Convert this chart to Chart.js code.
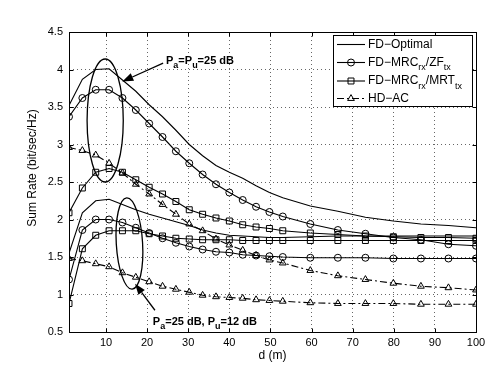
<!DOCTYPE html>
<html>
<head>
<meta charset="utf-8">
<script src="https://cdn.jsdelivr.net/npm/chart.js@4.4.1/dist/chart.umd.min.js"></script>
<style>
  html, body { margin: 0; padding: 0; background: #fff; }
  #wrap { width: 491px; height: 365px; }
</style>
</head>
<body>
<div id="wrap"><canvas id="myChart" width="491" height="365"></canvas></div>
<script>
// d (m) sample points
const distances = [1, 4.25, 7.5, 10.75, 14, 17.25, 20.5, 23.75, 27, 30.25, 33.5, 36.75,
  40, 43.25, 46.5, 49.75, 53, 59.7, 66.4, 73.1, 79.9, 86.6, 93.3, 100];

// Pa = Pu = 25 dB
const optHigh = [3.52, 3.87, 4.00, 4.01, 3.86, 3.71, 3.53, 3.37, 3.19, 3.00, 2.85, 2.72,
  2.63, 2.55, 2.45, 2.36, 2.29, 2.18, 2.11, 2.03, 1.98, 1.94, 1.92, 1.89];
const zfHigh = [3.37, 3.62, 3.73, 3.73, 3.62, 3.46, 3.28, 3.10, 2.91, 2.75, 2.60, 2.47,
  2.36, 2.26, 2.17, 2.10, 2.04, 1.94, 1.86, 1.81, 1.76, 1.73, 1.67, 1.65];
const mrtHigh = [2.09, 2.42, 2.63, 2.68, 2.63, 2.53, 2.43, 2.34, 2.24, 2.13, 2.07, 2.02,
  1.98, 1.93, 1.90, 1.88, 1.85, 1.82, 1.80, 1.78, 1.77, 1.76, 1.76, 1.75];
const hdHigh = [2.96, 2.92, 2.86, 2.75, 2.62, 2.47, 2.34, 2.20, 2.07, 1.94, 1.85, 1.74,
  1.66, 1.59, 1.52, 1.46, 1.42, 1.32, 1.25, 1.20, 1.15, 1.11, 1.09, 1.06];

// Pa = 25 dB, Pu = 12 dB
const optLow = [1.55, 2.09, 2.25, 2.27, 2.20, 2.13, 2.07, 2.02, 1.97, 1.92, 1.86, 1.82,
  1.79, 1.78, 1.77, 1.76, 1.76, 1.77, 1.78, 1.78, 1.78, 1.78, 1.78, 1.78];
const zfLow = [1.20, 1.86, 2.00, 2.00, 1.96, 1.89, 1.82, 1.75, 1.69, 1.64, 1.60, 1.57,
  1.56, 1.53, 1.52, 1.51, 1.50, 1.49, 1.49, 1.49, 1.48, 1.48, 1.48, 1.48];
const mrtLow = [0.88, 1.61, 1.79, 1.85, 1.85, 1.85, 1.81, 1.78, 1.75, 1.74, 1.73, 1.73,
  1.73, 1.72, 1.72, 1.72, 1.72, 1.72, 1.72, 1.72, 1.72, 1.72, 1.72, 1.72];
const hdLow = [1.48, 1.45, 1.41, 1.37, 1.29, 1.23, 1.17, 1.11, 1.07, 1.03, 0.99, 0.97,
  0.96, 0.95, 0.93, 0.92, 0.91, 0.89, 0.88, 0.88, 0.88, 0.87, 0.87, 0.87];

const xTicks = [10, 20, 30, 40, 50, 60, 70, 80, 90, 100];

const FONT = '"Liberation Sans", Arial, Helvetica, sans-serif';
const DASHDOT = [7, 3, 2, 3];

function series(vals) {
  return vals.map((v, i) => ({ x: distances[i], y: v }));
}

function lineSet(label, vals, marker, size, dash) {
  return {
    label: label,
    data: series(vals),
    borderColor: '#000',
    borderWidth: 1.1,
    borderDash: dash || [],
    pointStyle: marker || 'circle',
    pointRadius: marker ? size : 0,
    pointHoverRadius: marker ? size : 0,
    pointBorderColor: '#000',
    pointBackgroundColor: 'rgba(0,0,0,0)',
    pointBorderWidth: 1,
    tension: 0,
    fill: false
  };
}

// text with subscripts, parts = [[text, isSub], ...]
function rich(ctx, parts, x, y, size, bold) {
  let cx = x;
  ctx.textAlign = 'left';
  ctx.textBaseline = 'middle';
  for (const [t, sub] of parts) {
    const fs = sub ? Math.round(size * 0.78) : size;
    ctx.font = (bold ? 'bold ' : '') + fs + 'px ' + FONT;
    ctx.fillText(t, cx, sub ? y + size * 0.45 : y);
    cx += ctx.measureText(t).width;
  }
  return cx;
}

function arrow(ctx, x0, y0, x1, y1) {
  const ang = Math.atan2(y1 - y0, x1 - x0);
  const len = 11, half = 4;
  const bx = x1 - len * Math.cos(ang), by = y1 - len * Math.sin(ang);
  ctx.beginPath();
  ctx.moveTo(x0, y0);
  ctx.lineTo(bx, by);
  ctx.lineWidth = 1.3;
  ctx.stroke();
  ctx.beginPath();
  ctx.moveTo(x1, y1);
  ctx.lineTo(bx + half * Math.sin(ang), by - half * Math.cos(ang));
  ctx.lineTo(bx - half * Math.sin(ang), by + half * Math.cos(ang));
  ctx.closePath();
  ctx.fill();
}

const decor = {
  id: 'decor',
  afterDraw(chart) {
    const { ctx, chartArea: a, scales: { x, y } } = chart;
    ctx.save();
    ctx.strokeStyle = '#000';
    ctx.fillStyle = '#000';
    ctx.lineWidth = 1;
    ctx.setLineDash([]);

    // axes box
    const L = Math.round(a.left) + 0.5, R = Math.round(a.right) + 0.5;
    const T = Math.round(a.top) + 0.5, B = Math.round(a.bottom) + 0.5;
    ctx.strokeRect(L, T, R - L, B - T);

    // inward tick marks on all sides
    ctx.beginPath();
    xTicks.forEach(v => {
      const px = Math.round(x.getPixelForValue(v)) + 0.5;
      ctx.moveTo(px, B); ctx.lineTo(px, B - 4);
      ctx.moveTo(px, T); ctx.lineTo(px, T + 4);
    });
    y.ticks.forEach(t => {
      const py = Math.round(y.getPixelForValue(t.value)) + 0.5;
      ctx.moveTo(L, py); ctx.lineTo(L + 4, py);
      ctx.moveTo(R, py); ctx.lineTo(R - 4, py);
    });
    ctx.stroke();

    // axis titles
    ctx.font = '12px ' + FONT;
    ctx.textAlign = 'center';
    ctx.textBaseline = 'middle';
    ctx.fillText('d (m)', (a.left + a.right) / 2, 356);
    ctx.save();
    ctx.translate(33, 168);
    ctx.rotate(-Math.PI / 2);
    ctx.fillText('Sum Rate (bit/sec/Hz)', 0, 0);
    ctx.restore();

    // ellipses
    ctx.lineWidth = 1.3;
    ctx.beginPath();
    ctx.ellipse(x.getPixelForValue(9.8), y.getPixelForValue(3.32),
      x.getPixelForValue(9.8 + 4.4) - x.getPixelForValue(9.8),
      y.getPixelForValue(3.32) - y.getPixelForValue(3.32 + 0.82), 0, 0, 2 * Math.PI);
    ctx.stroke();
    ctx.beginPath();
    ctx.ellipse(x.getPixelForValue(15.7), y.getPixelForValue(1.68),
      x.getPixelForValue(15.7 + 3.2) - x.getPixelForValue(15.7),
      y.getPixelForValue(1.68) - y.getPixelForValue(1.68 + 0.61), -0.06, 0, 2 * Math.PI);
    ctx.stroke();

    // arrows and notes
    arrow(ctx, x.getPixelForValue(23.9), y.getPixelForValue(4.085),
      x.getPixelForValue(13.97), y.getPixelForValue(3.84));
    arrow(ctx, x.getPixelForValue(21.9), y.getPixelForValue(0.79),
      x.getPixelForValue(17.06), y.getPixelForValue(1.145));
    rich(ctx, [['P', 0], ['a', 1], ['=P', 0], ['u', 1], ['=25 dB', 0]],
      x.getPixelForValue(24.6), y.getPixelForValue(4.12), 11, true);
    rich(ctx, [['P', 0], ['a', 1], ['=25 dB, P', 0], ['u', 1], ['=12 dB', 0]],
      x.getPixelForValue(21.4), y.getPixelForValue(0.64), 11, true);

    // legend
    const lx = 333.5, ly = 35.5, lw = 139, lh = 71;
    ctx.fillStyle = '#fff';
    ctx.fillRect(lx, ly, lw, lh);
    ctx.lineWidth = 1;
    ctx.strokeRect(lx, ly, lw, lh);
    const entries = [
      { ds: 0, yy: 44.5, parts: [['FD\u2212Optimal', 0]] },
      { ds: 2, yy: 62.5, parts: [['FD\u2212MRC', 0], ['rx', 1], ['/ZF', 0], ['tx', 1]] },
      { ds: 4, yy: 81, parts: [['FD\u2212MRC', 0], ['rx', 1], ['/MRT', 0], ['tx', 1]] },
      { ds: 6, yy: 98.5, parts: [['HD\u2212AC', 0]] }
    ];
    entries.forEach(e => {
      const d = chart.data.datasets[e.ds];
      ctx.strokeStyle = '#000';
      ctx.lineWidth = 1.1;
      ctx.setLineDash(d.borderDash);
      ctx.beginPath();
      ctx.moveTo(337, e.yy);
      ctx.lineTo(365, e.yy);
      ctx.stroke();
      ctx.setLineDash([]);
      if (d.pointRadius > 0) {
        ctx.lineWidth = 1;
        ctx.fillStyle = 'rgba(0,0,0,0)';
        Chart.helpers.drawPoint(ctx, {
          pointStyle: d.pointStyle, radius: d.pointRadius, borderWidth: 1, rotation: 0
        }, 351, e.yy);
      }
      ctx.fillStyle = '#000';
      rich(ctx, e.parts, 368, e.yy, 12, false);
    });
    ctx.restore();
  }
};

const data = {
  datasets: [
    lineSet('FD-Optimal', optHigh, null, 0),
    lineSet('FD-Optimal (12 dB)', optLow, null, 0),
    lineSet('FD-MRC/ZF', zfHigh, 'circle', 3.5),
    lineSet('FD-MRC/ZF (12 dB)', zfLow, 'circle', 3.5),
    lineSet('FD-MRC/MRT', mrtHigh, 'rect', 4.2),
    lineSet('FD-MRC/MRT (12 dB)', mrtLow, 'rect', 4.2),
    lineSet('HD-AC', hdHigh, 'triangle', 3.9, DASHDOT),
    lineSet('HD-AC (12 dB)', hdLow, 'triangle', 3.9, DASHDOT)
  ]
};

const gridStyle = {
  color: 'rgba(0,0,0,0.6)',
  lineWidth: 1,
  drawTicks: false
};

const config = {
  type: 'line',
  data: data,
  options: {
    responsive: false,
    animation: false,
    layout: { padding: { left: 0, top: 32, right: 15, bottom: 0 } },
    plugins: { legend: { display: false }, tooltip: { enabled: false } },
    scales: {
      x: {
        type: 'linear',
        min: 1,
        max: 100,
        afterBuildTicks: s => { s.ticks = xTicks.map(v => ({ value: v })); },
        afterFit: s => { s.height = 33; },
        border: { display: false, dash: [1, 3] },
        grid: gridStyle,
        ticks: { color: '#000', padding: 4, maxRotation: 0, font: { family: FONT, size: 11 } }
      },
      y: {
        min: 0.5,
        max: 4.5,
        afterFit: s => { s.width = 69; },
        border: { display: false, dash: [1, 3] },
        grid: gridStyle,
        ticks: {
          stepSize: 0.5, color: '#000', padding: 6,
          font: { family: FONT, size: 11 },
          callback: v => String(v)
        }
      }
    }
  },
  plugins: [decor]
};

const myChart = new Chart(document.getElementById('myChart'), config);
</script>
</body>
</html>
